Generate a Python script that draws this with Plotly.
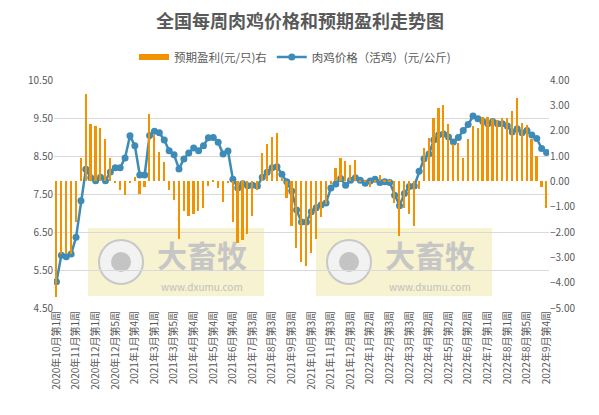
import plotly.graph_objects as go

# 每月周数 (2020年10月 - 2022年9月)
meses = [(2020, 10, 4), (2020, 11, 4), (2020, 12, 5),
         (2021, 1, 4), (2021, 2, 3), (2021, 3, 5), (2021, 4, 4), (2021, 5, 4), (2021, 6, 5),
         (2021, 7, 4), (2021, 8, 4), (2021, 9, 4), (2021, 10, 4), (2021, 11, 4), (2021, 12, 5),
         (2022, 1, 3), (2022, 2, 4), (2022, 3, 5), (2022, 4, 4), (2022, 5, 4), (2022, 6, 5),
         (2022, 7, 4), (2022, 8, 5), (2022, 9, 4)]
semanas = [f"{a}年{m}月第{w}周" for a, m, n in meses for w in range(1, n + 1)]

precio = [5.19, 5.89, 5.85, 5.92, 6.36, 7.32, 8.15, 7.93, 7.85, 7.94,
          7.85, 8.08, 8.19, 8.19, 8.45, 9.03, 8.77, 8.00, 8.00, 9.04,
          9.15, 9.11, 8.92, 8.64, 8.53, 8.16, 8.42, 8.58, 8.71, 8.64,
          8.77, 8.98, 8.99, 8.86, 8.55, 8.63, 7.89, 7.66, 7.77, 7.72,
          7.73, 7.71, 7.94, 8.07, 8.19, 8.22, 8.02, 7.82, 7.58, 7.08,
          6.76, 6.76, 7.03, 7.14, 7.21, 7.26, 7.66, 7.76, 7.91, 7.73,
          7.86, 7.93, 7.86, 7.78, 7.84, 7.89, 7.80, 7.82, 7.80, 7.47,
          7.19, 7.51, 7.70, 7.71, 8.10, 8.43, 8.55, 8.92, 9.06, 9.08,
          9.00, 8.87, 8.99, 9.17, 9.33, 9.55, 9.48, 9.41, 9.35, 9.41,
          9.35, 9.35, 9.29, 9.13, 9.22, 9.11, 9.17, 9.05, 8.96, 8.70,
          8.59]

ganancia = [-4.58, -2.87, -2.87, -2.87, -1.61, 0.93, 3.43, 2.27, 2.19, 2.11,
            1.68, 0.93, -0.08, -0.35, -0.55, -0.08, 0.17, -0.49, -0.21, 2.66,
            1.82, 1.17, 0.77, -0.35, -0.75, -2.28, -1.17, -1.38, -1.30, -1.17,
            -1.04, -0.20, 0.05, -0.28, -0.83, -0.03, -1.61, -2.44, -2.31, -2.09,
            -1.35, -0.34, 1.10, 1.46, 1.76, 1.92, 0.14, -0.64, -1.75, -2.64,
            -3.20, -3.36, -2.83, -2.28, -1.39, -0.91, -0.10, 0.54, 0.93, 0.80,
            0.64, 0.84, 0.03, 0.02, -0.21, 0.02, 0.25, 0.03, 0.02, -0.87,
            -2.17, -1.06, -1.30, -1.75, -0.30, 1.30, 1.72, 2.51, 2.90, 3.00,
            2.27, 1.46, 1.50, 0.91, 1.69, 2.19, 2.09, 2.55, 2.55, 2.48,
            2.41, 2.51, 2.51, 2.77, 3.27, 2.32, 2.24, 1.69, 1.01, -0.21,
            -1.04]

FUENTE = "Noto Sans CJK SC"
GRIS = "#595959"
NARANJA = "#F39200"
AZUL = "#3E8BB8"

# la pagina tiene 8px de margen; se trabaja en coordenadas de pagina
OFF = 8
W, H = 599 - OFF, 415 - OFF
X0, X1, Y0, Y1 = 54, 549, 80, 308   # area de trazado en la pagina
L, R, T, B = X0 - OFF, W - (X1 - OFF), Y0 - OFF, H - (Y1 - OFF)

def px(x):
    return (x - X0) / (X1 - X0)

def py(y):
    return (Y1 - y) / (Y1 - Y0)

fig = go.Figure()

# 1. Barras de ganancia esperada (eje derecho)
fig.add_trace(go.Bar(
    x=semanas, y=ganancia, name="预期盈利(元/只)右",
    marker=dict(color=NARANJA, line=dict(width=0)),
    width=0.35, yaxis="y2", showlegend=False
))
# entrada de leyenda con rectangulo ancho
fig.add_trace(go.Scatter(
    x=[None], y=[None], name="预期盈利(元/只)右", mode="lines",
    line=dict(color=NARANJA, width=6)
))

# 2. Linea de precio
fig.add_trace(go.Scatter(
    x=semanas, y=precio, name="肉鸡价格（活鸡）(元/公斤)",
    mode="lines+markers",
    line=dict(color=AZUL, width=2.5),
    marker=dict(color=AZUL, size=7)
))

# 3. Marcas de agua
formas = []
notas = []
for x0 in (88, 316):
    formas.append(dict(type="rect", xref="paper", yref="paper", layer="below",
                       x0=px(x0), x1=px(x0 + 176), y0=py(296), y1=py(228),
                       fillcolor="#F4EDBF", opacity=0.75, line=dict(width=0)))
    formas.append(dict(type="circle", xref="paper", yref="paper", layer="below",
                       x0=px(x0 + 11), x1=px(x0 + 55), y0=py(284), y1=py(240),
                       fillcolor="#F2F2F2", line=dict(color="#C8C8C8", width=2)))
    formas.append(dict(type="circle", xref="paper", yref="paper", layer="below",
                       x0=px(x0 + 23), x1=px(x0 + 43), y0=py(272), y1=py(252),
                       fillcolor="#C4C4C4", line=dict(width=0)))
    notas.append(dict(text="<b>大畜牧</b>", xref="paper", yref="paper", showarrow=False,
                      x=px(x0 + 114), y=py(254), xanchor="center", yanchor="middle",
                      font=dict(family=FUENTE, size=30, color="#C6C6C6")))
    notas.append(dict(text="www.dxumu.com", xref="paper", yref="paper", showarrow=False,
                      x=px(x0 + 114), y=py(286), xanchor="center", yanchor="middle",
                      font=dict(family=FUENTE, size=10, color="#C0C0C0")))

fig.update_layout(
    width=W, height=H,
    margin=dict(l=L, r=R, t=T, b=B, autoexpand=False),
    paper_bgcolor="white", plot_bgcolor="white",
    font=dict(family=FUENTE, color=GRIS, size=10),
    title=dict(text="全国每周肉鸡价格和预期盈利走势图", xref="container", x=(300 - OFF) / W,
               xanchor="center", y=1 - (22 - OFF) / H, yanchor="middle", yref="container",
               font=dict(family=FUENTE, size=18, color=GRIS, weight="bold")),
    legend=dict(orientation="h", x=px(134), xanchor="left", y=py(57), yanchor="middle",
                font=dict(size=11.5, color=GRIS), bgcolor="rgba(0,0,0,0)",
                traceorder="normal"),
    showlegend=True,
    bargap=0,
    shapes=formas,
    annotations=notas,
    xaxis=dict(type="category", tickmode="array", tickvals=semanas[::4],
               ticktext=semanas[::4], tickangle=-90, showgrid=False,
               tickfont=dict(size=10, color=GRIS), ticks="", showline=False,
               automargin=False, range=[-0.5, len(semanas) - 0.5]),
    yaxis=dict(range=[4.5, 10.5], dtick=1, tick0=4.5, tickformat=".2f",
               gridcolor="#D9D9D9", gridwidth=1, zeroline=False, automargin=False,
               tickfont=dict(size=10, color=GRIS)),
    yaxis2=dict(range=[-5, 4], dtick=1, tickformat=".2f", overlaying="y", side="right",
                showgrid=False, zeroline=False, automargin=False,
                tickfont=dict(size=10, color=GRIS)),
)

fig.write_html("out.html")
